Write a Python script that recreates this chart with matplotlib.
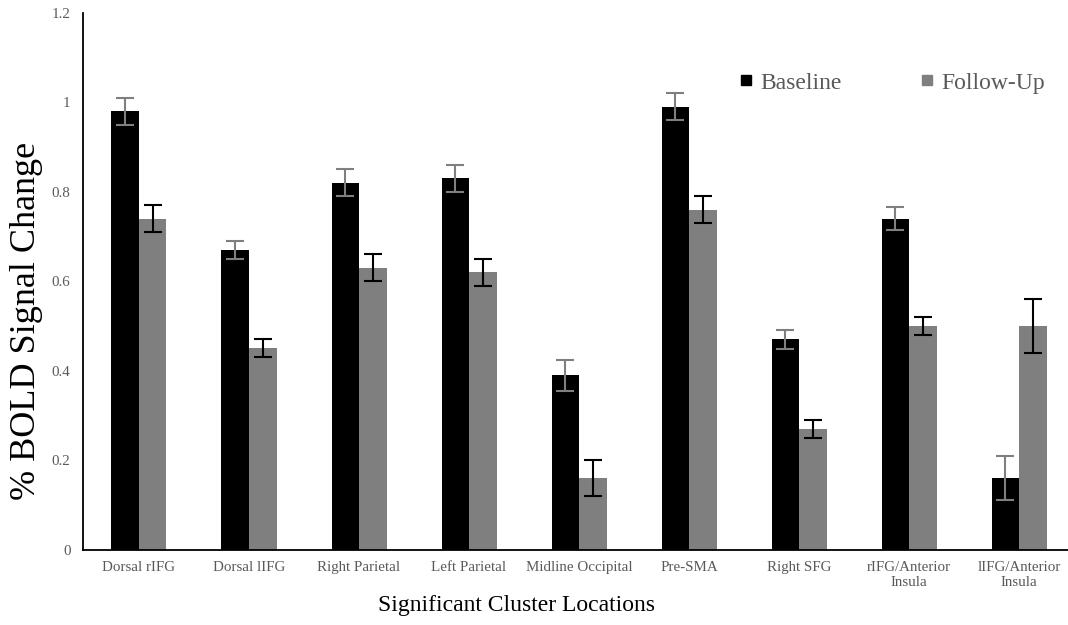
import numpy as np
import matplotlib.pyplot as plt
from matplotlib.lines import Line2D

plt.rcParams['font.family'] = ['Liberation Serif', 'DejaVu Serif']

# data
locations = ['Dorsal rIFG', 'Dorsal lIFG', 'Right Parietal', 'Left Parietal',
             'Midline Occipital', 'Pre-SMA', 'Right SFG',
             'rIFG/Anterior\nInsula', 'lIFG/Anterior\nInsula']
baseline = [0.98, 0.67, 0.82, 0.83, 0.39, 0.99, 0.47, 0.74, 0.16]
baseline_err = [0.03, 0.02, 0.03, 0.03, 0.035, 0.03, 0.022, 0.025, 0.05]
followup = [0.74, 0.45, 0.63, 0.62, 0.16, 0.76, 0.27, 0.50, 0.50]
followup_err = [0.03, 0.02, 0.03, 0.03, 0.04, 0.03, 0.02, 0.02, 0.06]
y_ticks = [0, 0.2, 0.4, 0.6, 0.8, 1, 1.2]
y_ticklabels = ['0', '0.2', '0.4', '0.6', '0.8', '1', '1.2']

BLACK = '#000000'
GREY = '#7f7f7f'
LABEL_GREY = '#595959'

fig = plt.figure(figsize=(10.68, 6.25), dpi=100)
ax = fig.add_axes([83 / 1068, 1 - 549.7 / 625, 1 - 83 / 1068, (549.7 - 12.7) / 625])

x = np.arange(len(locations))
w = 0.25
ax.bar(x - w / 2, baseline, w, color=BLACK, zorder=2)
ax.bar(x + w / 2, followup, w, color=GREY, zorder=2)
ax.errorbar(x - w / 2, baseline, yerr=baseline_err, fmt='none', ecolor=GREY,
            elinewidth=1.5, capsize=6.5, capthick=1.5, zorder=3)
ax.errorbar(x + w / 2, followup, yerr=followup_err, fmt='none', ecolor=BLACK,
            elinewidth=1.5, capsize=6.5, capthick=1.5, zorder=3)

ax.set_xlim(-0.509, 8.445)
ax.set_ylim(0, 1.2)
ax.set_yticks(y_ticks)
ax.set_yticklabels(y_ticklabels)
ax.set_xticks(x)
ax.set_xticklabels(locations, linespacing=1.2)
ax.tick_params(axis='both', length=0, labelsize=10.8, labelcolor=LABEL_GREY)
ax.tick_params(axis='x', pad=8)
ax.tick_params(axis='y', pad=9)

for s in ['top', 'right']:
    ax.spines[s].set_visible(False)
for s in ['left', 'bottom']:
    ax.spines[s].set_linewidth(1.3)

ax.set_xlabel('Significant Cluster Locations', fontsize=17, va='center')
ax.xaxis.set_label_coords(0.44, -0.103)
ax.set_ylabel('% BOLD Signal Change', fontsize=26, va='center')
ax.yaxis.set_label_coords(-0.057, 0.426)

handles = [Line2D([], [], marker='s', ls='none', color=BLACK, markersize=7),
           Line2D([], [], marker='s', ls='none', color=GREY, markersize=7)]
ax.legend(handles, ['Baseline', 'Follow-Up'], ncol=2, frameon=False,
          fontsize=17, labelcolor=LABEL_GREY, handlelength=0.6,
          handletextpad=0.3, columnspacing=3.3,
          loc='upper right', bbox_to_anchor=(0.998, 0.929))

fig.savefig('out.png', dpi=100)
